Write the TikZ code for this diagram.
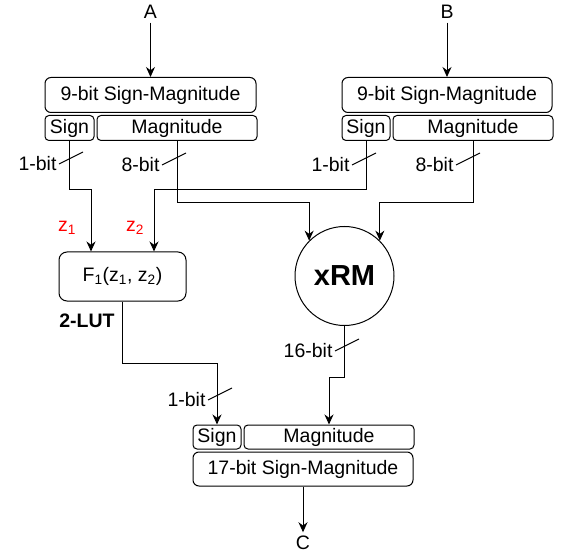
\documentclass[tikz,border=0pt]{standalone}
\usepackage{fontspec}
\setmainfont{Liberation Sans}
\usepackage{xcolor}
\usepackage{tikz}
\usetikzlibrary{positioning, arrows.meta}

% bus width mark: slash across a line plus its label
\newcommand{\buswidth}[4]{%
  \draw[tick] (#1,#2) -- ++(24,-12);
  \node[bits] (#4) at (#1,#2) {#3};}

\begin{document}
\begin{tikzpicture}[x=1pt, y=-1pt, line width=1pt,
  >={Stealth[length=10pt, width=9pt]},
  font=\fontsize{19.5}{23}\selectfont,
  word/.style={draw, rounded corners=6pt, inner sep=0pt, minimum height=35pt},
  field/.style={draw, rounded corners=4pt, inner sep=0pt, minimum height=25pt},
  bits/.style={anchor=east, inner sep=2pt},
  zlab/.style={text=red},
  tick/.style={line width=0.9pt}]
  \useasboundingbox (0,0) rectangle (565,556);

  % input A
  \node (A) at (150.5,12) {A};
  \node[word, minimum width=211pt] (hdrA) at (150.5,95) {9-bit Sign-Magnitude};
  \node[field, minimum width=49pt] (signA) at (69.5,128) {Sign};
  \node[field, minimum width=160pt] (magA) [right=2pt of signA] {Magnitude};

  % input B
  \node (B) at (447,12) {B};
  \node[word, minimum width=210pt] (hdrB) at (447,95) {9-bit Sign-Magnitude};
  \node[field, minimum width=48pt] (signB) at (366,128) {Sign};
  \node[field, minimum width=160pt] (magB) [right=2pt of signB] {Magnitude};

  % sign logic and multiplier
  \node[draw, rounded corners=8pt, minimum width=127pt, minimum height=49pt] (F) at (122.5,276.5)
    {F\textsubscript{1}(z\textsubscript{1}, z\textsubscript{2})};
  \node[font=\fontsize{19.5}{23}\selectfont\bfseries] (lut) at (87,321) {2-LUT};
  \node[draw, circle, minimum size=99pt, inner sep=0pt, font=\fontsize{29}{34}\selectfont\bfseries]
    (xrm) at (344.5,276) {xRM};

  % output C
  \node[field, minimum width=48pt, minimum height=24pt] (signC) at (217,437) {Sign};
  \node[field, minimum width=170pt, minimum height=24pt] (magC) [right=2pt of signC] {Magnitude};
  \node[word, minimum width=220pt, minimum height=34pt] (hdrC) at (303,469) {17-bit Sign-Magnitude};
  \node (C) at (303,543) {C};

  \node[zlab] (z1) at (67,228) {z\textsubscript{1}};
  \node[zlab] (z2) at (135,228) {z\textsubscript{2}};

  \path[->]
    (A) edge (hdrA)
    (B) edge (hdrB)
    (hdrC) edge (C);

  \draw[->] (signA.south) -- ++(0,49) -| ([xshift=-31.5pt]F.north);
  \draw[->] (signB.south) -- ++(0,49) -| ([xshift=31.5pt]F.north);
  \draw[->] (magA.south) -- ++(0,62) -| (xrm.135);
  \draw[->] (magB.south) -- ++(0,62) -| (xrm.45);
  \draw[->] (F.south) -- ++(0,62) -| (signC.north);
  \draw[->] (xrm.south) -- ++(0,51) -| (magC.north);

  \buswidth{59}{164}{1-bit}{wA1}
  \buswidth{162}{165}{8-bit}{wA8}
  \buswidth{352}{165}{1-bit}{wB1}
  \buswidth{456}{165}{8-bit}{wB8}
  \buswidth{335}{351}{16-bit}{wM}
  \buswidth{208}{400}{1-bit}{wS}
\end{tikzpicture}
\end{document}
